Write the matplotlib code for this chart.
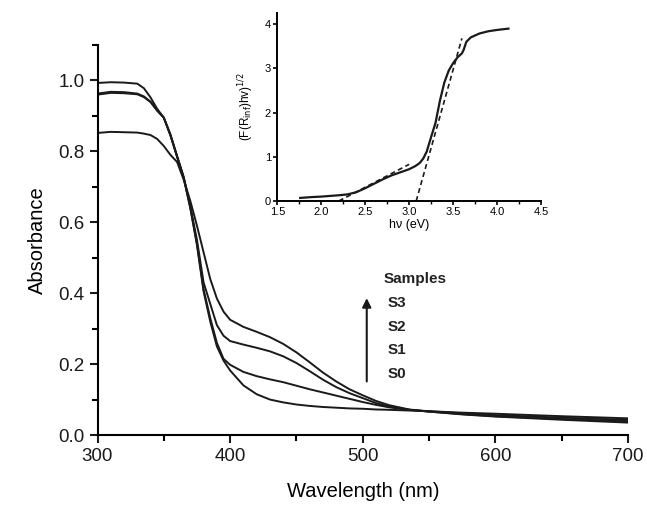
import matplotlib.pyplot as plt
from matplotlib.ticker import MultipleLocator

# main spectra
wavelength = [300, 310, 320, 330, 335, 340, 345, 350, 355, 360, 365, 370, 375, 380,
              385, 390, 395, 400, 410, 420, 430, 440, 450, 460, 470, 480, 490, 500,
              510, 520, 535, 550, 575, 600, 650, 700]
s0 = [0.963, 0.968, 0.967, 0.963, 0.955, 0.94, 0.915, 0.895, 0.845, 0.785, 0.725, 0.64, 0.535, 0.405,
      0.32, 0.25, 0.21, 0.182, 0.14, 0.115, 0.1, 0.092, 0.086, 0.082, 0.079, 0.077, 0.075, 0.074,
      0.072, 0.071, 0.069, 0.067, 0.063, 0.06, 0.053, 0.047]
s1 = [0.96, 0.965, 0.964, 0.961, 0.953, 0.939, 0.915, 0.895, 0.845, 0.785, 0.725, 0.64, 0.54, 0.41,
      0.33, 0.26, 0.215, 0.198, 0.178, 0.166, 0.157, 0.149, 0.139, 0.129, 0.12, 0.111, 0.102, 0.093,
      0.085, 0.078, 0.071, 0.067, 0.061, 0.056, 0.049, 0.043]
s2 = [0.993, 0.995, 0.994, 0.991, 0.978, 0.952, 0.92, 0.895, 0.848, 0.787, 0.728, 0.645, 0.55, 0.43,
      0.37, 0.31, 0.28, 0.265, 0.255, 0.246, 0.236, 0.222, 0.203, 0.18, 0.156, 0.135, 0.118, 0.104,
      0.09, 0.08, 0.071, 0.066, 0.059, 0.053, 0.045, 0.039]
s3 = [0.852, 0.855, 0.854, 0.853, 0.85, 0.846, 0.835, 0.815, 0.79, 0.77, 0.72, 0.66, 0.59, 0.515,
      0.44, 0.385, 0.348, 0.325, 0.305, 0.291, 0.276, 0.257, 0.233, 0.205, 0.176, 0.151, 0.129, 0.112,
      0.096, 0.084, 0.072, 0.066, 0.058, 0.052, 0.043, 0.035]
samples = ['S3', 'S2', 'S1', 'S0']

# inset: Kubelka-Munk plot
hv = [1.76, 1.9, 2.0, 2.1, 2.2, 2.3, 2.4, 2.5, 2.6, 2.7, 2.8, 2.9, 3.0, 3.07, 3.12, 3.16,
      3.2, 3.25, 3.3, 3.35, 3.4, 3.45, 3.5, 3.55, 3.6, 3.62, 3.65, 3.7, 3.8, 3.9, 4.0, 4.13]
km = [0.07, 0.09, 0.1, 0.115, 0.13, 0.15, 0.2, 0.29, 0.39, 0.49, 0.58, 0.65, 0.72, 0.79, 0.86, 0.96,
      1.12, 1.45, 1.77, 2.27, 2.68, 2.95, 3.12, 3.25, 3.34, 3.42, 3.6, 3.7, 3.79, 3.84, 3.87, 3.9]
fit1_x = [2.2, 3.0]
fit1_y = [0.0, 0.83]
fit2_x = [3.08, 3.6]
fit2_y = [0.0, 3.68]

plt.rcParams['font.family'] = ['Liberation Sans', 'DejaVu Sans']

fig = plt.figure(figsize=(6.47, 5.08), dpi=100)
ax = fig.add_axes([0.1507, 0.1437, 0.8200, 0.7677])

for vals in [s0, s1, s2, s3]:
    ax.plot(wavelength, vals, color='#1a1a1a', lw=1.4)

ax.set_xlim(300, 700)
ax.set_ylim(0, 1.1)
ax.xaxis.set_major_locator(MultipleLocator(100))
ax.xaxis.set_minor_locator(MultipleLocator(50))
ax.yaxis.set_major_locator(MultipleLocator(0.2))
ax.yaxis.set_minor_locator(MultipleLocator(0.1))
ax.yaxis.set_major_formatter(plt.FormatStrFormatter('%.1f'))
ax.spines['top'].set_visible(False)
ax.spines['right'].set_visible(False)
for s in ['left', 'bottom']:
    ax.spines[s].set_linewidth(1.5)
ax.tick_params(which='major', direction='out', length=6, width=1.5, labelsize=13.5, colors='#1a1a1a')
ax.tick_params(which='minor', direction='out', length=4, width=1.5)
ax.set_xlabel('Wavelength (nm)', fontsize=14.5, labelpad=12)
ax.set_ylabel('Absorbance', fontsize=14.5, labelpad=8)

# samples annotation
ax.annotate('', xy=(503, 0.386), xytext=(503, 0.151),
            arrowprops=dict(arrowstyle='-|>', color='#1a1a1a', lw=1.5,
                            mutation_scale=13, shrinkA=0, shrinkB=0))
ax.text(384 / 647, (508 - 279) / 508, 'Samples', transform=fig.transFigure,
        fontsize=11, fontweight='bold', va='center', ha='left', color='#222222')
for lab, ypix in zip(samples, [303, 327, 350, 374]):
    ax.text(388 / 647, (508 - ypix) / 508, lab, transform=fig.transFigure,
            fontsize=11, fontweight='bold', va='center', ha='left', color='#222222')

# inset
ins = fig.add_axes([0.4286, 0.6043, 0.4076, 0.3707])
ins.plot(hv, km, color='#1a1a1a', lw=1.6)
ins.plot(fit1_x, fit1_y, color='#1a1a1a', lw=1.2, ls=(0, (3, 2)))
ins.plot(fit2_x, fit2_y, color='#1a1a1a', lw=1.2, ls=(0, (3, 2)))
ins.set_xlim(1.5, 4.5)
ins.set_ylim(0, 4.26)
ins.xaxis.set_major_locator(MultipleLocator(0.5))
ins.xaxis.set_minor_locator(MultipleLocator(0.25))
ins.yaxis.set_major_locator(MultipleLocator(1))
ins.patch.set_alpha(0)
ins.spines['top'].set_visible(False)
ins.spines['right'].set_visible(False)
for s in ['left', 'bottom']:
    ins.spines[s].set_linewidth(1.4)
ins.tick_params(which='major', direction='out', length=3, width=1.2, labelsize=8, pad=1.5)
ins.tick_params(which='minor', direction='out', length=2, width=1.0)
ins.set_xlabel('h\u03bd (eV)', fontsize=9, labelpad=1)
ins.set_ylabel('(F(R$_{\\mathrm{inf}}$)hv)$^{1/2}$', fontsize=8.5, labelpad=6)

fig.savefig('out.png', dpi=100)
